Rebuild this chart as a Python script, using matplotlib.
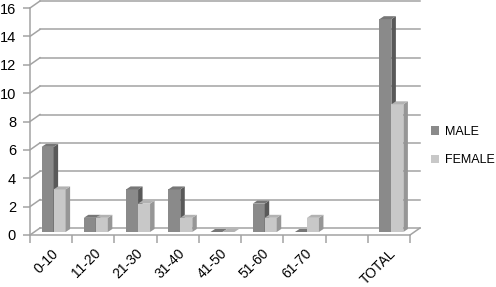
import numpy as np
import matplotlib
matplotlib.use("Agg")
import matplotlib.pyplot as plt
from matplotlib.patches import Polygon, Patch

plt.rcParams["font.family"] = ["Liberation Sans", "DejaVu Sans"]

CATEGORIES = ["0-10", "11-20", "21-30", "31-40", "41-50", "51-60", "61-70", "", "TOTAL"]
MALE = [6, 1, 3, 3, 0, 2, 0, np.nan, 15]
FEMALE = [3, 1, 2, 1, 0, 1, 1, np.nan, 9]
Y_TICKS = list(range(0, 17, 2))

MALE_COLORS = ("#8a8a8a", "#595959", "#777777")     # front, side, top
FEMALE_COLORS = ("#c8c8c8", "#969696", "#b2b2b2")
GRID = "#a3a3a3"
TEXT = "#000000"

W, H = 496, 287
AX_LEFT, AX_RIGHT, AX_TOP, AX_BOTTOM = 30, 410, 8, 235   # pixel box of the front plane

fig = plt.figure(figsize=(W / 100, H / 100), dpi=100)
ax = fig.add_axes([AX_LEFT / W, 1 - AX_BOTTOM / H, (AX_RIGHT - AX_LEFT) / W, (AX_BOTTOM - AX_TOP) / H])

n = len(CATEGORIES)
ax.set_xlim(-0.5, n - 0.5)
ax.set_ylim(0, 16)

# pixel -> data unit helpers
PX_X = n / (AX_RIGHT - AX_LEFT)
PX_Y = 16 / (AX_BOTTOM - AX_TOP)

# depth of the chart (back wall offset) and of a bar
DX, DY = 10 * PX_X, 7 * PX_Y
BDX, BDY = 4.5 * PX_X, 3 * PX_Y
FRONT_DX, FRONT_DY = 2.5 * PX_X, 3 * PX_Y
BAR_W = 12 * PX_X

xl, xr = -0.5, n - 0.5

# back wall gridlines with their diagonal connectors
for v in Y_TICKS:
    ax.plot([xl, xl + DX], [v, v + DY], color=GRID, lw=1.1, clip_on=False, zorder=1)
    ax.plot([xl + DX, xr + DX], [v + DY, v + DY], color=GRID, lw=1.1, clip_on=False, zorder=1)
# floor right edge
ax.plot([xr, xr + DX], [0, DY], color=GRID, lw=1.1, clip_on=False, zorder=1)


def draw_bars(offset, values, colors):
    x = np.arange(n) + offset + FRONT_DX
    vals = np.array(values, dtype=float)
    mask = ~np.isnan(vals)
    bars = ax.bar(x[mask], vals[mask], width=BAR_W, bottom=FRONT_DY, color=colors[0],
                  edgecolor="none", zorder=3)
    for rect in bars:
        x0 = rect.get_x()
        x1 = x0 + rect.get_width()
        b = rect.get_y()
        t = b + rect.get_height()
        side = Polygon([(x1, b), (x1 + BDX, b + BDY), (x1 + BDX, t + BDY), (x1, t)],
                       closed=True, facecolor=colors[1], edgecolor="none", zorder=3)
        top = Polygon([(x0, t), (x1, t), (x1 + BDX, t + BDY), (x0 + BDX, t + BDY)],
                      closed=True, facecolor=colors[2], edgecolor="none", zorder=3)
        ax.add_patch(side)
        ax.add_patch(top)


draw_bars(-BAR_W / 2, MALE, MALE_COLORS)
draw_bars(BAR_W / 2, FEMALE, FEMALE_COLORS)

# axes styling
for s in ["top", "right"]:
    ax.spines[s].set_visible(False)
for s in ["left", "bottom"]:
    ax.spines[s].set_color(GRID)
    ax.spines[s].set_linewidth(1.1)

ax.set_yticks(Y_TICKS)
ax.set_yticklabels([str(v) for v in Y_TICKS], fontsize=10.5, color=TEXT)
ax.tick_params(axis="y", length=5, width=1.1, color=GRID, pad=5)

ax.set_xticks(np.arange(n))
ax.set_xticklabels(CATEGORIES, fontsize=10, color=TEXT, rotation=45, ha="right",
                   rotation_mode="anchor")
ax.tick_params(axis="x", which="major", length=0, pad=8)
ax.set_xticks(np.arange(n + 1) - 0.5, minor=True)
ax.tick_params(axis="x", which="minor", length=6, width=1.1, color=GRID)

handles = [Patch(facecolor=MALE_COLORS[0], edgecolor="none", label="MALE"),
           Patch(facecolor=FEMALE_COLORS[0], edgecolor="none", label="FEMALE")]
fig.legend(handles=handles, loc="center left", bbox_to_anchor=(431 / W, 1 - 146 / H),
           frameon=False, fontsize=9, handlelength=0.65, handleheight=0.65,
           handletextpad=0.45, labelspacing=1.3, borderpad=0, borderaxespad=0)

fig.savefig("out.png", dpi=100, facecolor="white")
